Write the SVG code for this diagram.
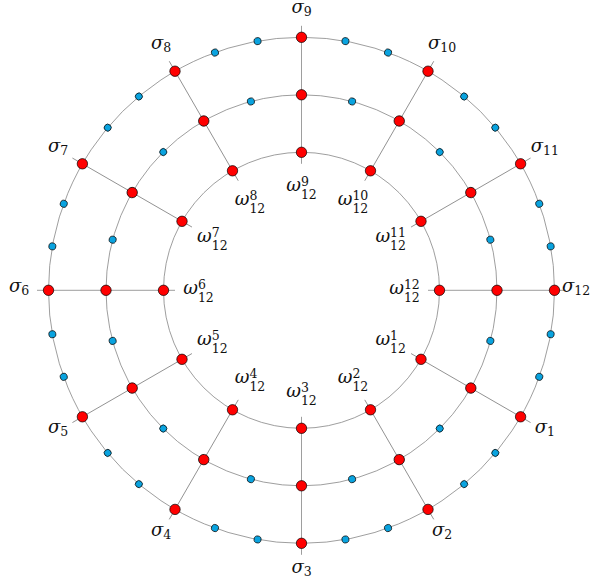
<svg xmlns="http://www.w3.org/2000/svg" width="594" height="585" viewBox="0 0 594 585">
<style>
.ring{fill:none;stroke:#858585;stroke-width:0.8}
.sp{stroke:#858585;stroke-width:0.8}
.r{fill:#ff0000;stroke:#000;stroke-width:0.7}
.b{fill:#0aa3df;stroke:#000;stroke-width:0.7}
.lab{font-family:"DejaVu Serif","Liberation Serif",serif;font-style:italic;font-size:18px;fill:#111;text-anchor:middle}
.s{font-style:normal;font-size:12.5px}
</style>
<rect width="594" height="585" fill="#fff"/>
<g id="connectors" transform="translate(301.5,290.3)">
<circle class="ring" r="138"/>
<circle class="ring" r="195.5"/>
<circle class="ring" r="253"/>
<g class="sp">
<line x1="126.5" x2="264.5" transform="rotate(30)"/>
<line x1="126.5" x2="264.5" transform="rotate(60)"/>
<line x1="126.5" x2="264.5" transform="rotate(90)"/>
<line x1="126.5" x2="264.5" transform="rotate(120)"/>
<line x1="126.5" x2="264.5" transform="rotate(150)"/>
<line x1="126.5" x2="264.5" transform="rotate(180)"/>
<line x1="126.5" x2="264.5" transform="rotate(210)"/>
<line x1="126.5" x2="264.5" transform="rotate(240)"/>
<line x1="126.5" x2="264.5" transform="rotate(270)"/>
<line x1="126.5" x2="264.5" transform="rotate(300)"/>
<line x1="126.5" x2="264.5" transform="rotate(330)"/>
<line x1="126.5" x2="264.5" transform="rotate(0)"/>
</g>
</g>
<g id="blue-dots" transform="translate(301.5,290.3)">
<g id="b-o-1a"><circle class="b" r="3.5" cx="253" transform="rotate(10)"/></g>
<g id="b-o-1b"><circle class="b" r="3.5" cx="253" transform="rotate(20)"/></g>
<g id="b-o-2a"><circle class="b" r="3.5" cx="253" transform="rotate(40)"/></g>
<g id="b-o-2b"><circle class="b" r="3.5" cx="253" transform="rotate(50)"/></g>
<g id="b-o-3a"><circle class="b" r="3.5" cx="253" transform="rotate(70)"/></g>
<g id="b-o-3b"><circle class="b" r="3.5" cx="253" transform="rotate(80)"/></g>
<g id="b-o-4a"><circle class="b" r="3.5" cx="253" transform="rotate(100)"/></g>
<g id="b-o-4b"><circle class="b" r="3.5" cx="253" transform="rotate(110)"/></g>
<g id="b-o-5a"><circle class="b" r="3.5" cx="253" transform="rotate(130)"/></g>
<g id="b-o-5b"><circle class="b" r="3.5" cx="253" transform="rotate(140)"/></g>
<g id="b-o-6a"><circle class="b" r="3.5" cx="253" transform="rotate(160)"/></g>
<g id="b-o-6b"><circle class="b" r="3.5" cx="253" transform="rotate(170)"/></g>
<g id="b-o-7a"><circle class="b" r="3.5" cx="253" transform="rotate(190)"/></g>
<g id="b-o-7b"><circle class="b" r="3.5" cx="253" transform="rotate(200)"/></g>
<g id="b-o-8a"><circle class="b" r="3.5" cx="253" transform="rotate(220)"/></g>
<g id="b-o-8b"><circle class="b" r="3.5" cx="253" transform="rotate(230)"/></g>
<g id="b-o-9a"><circle class="b" r="3.5" cx="253" transform="rotate(250)"/></g>
<g id="b-o-9b"><circle class="b" r="3.5" cx="253" transform="rotate(260)"/></g>
<g id="b-o-10a"><circle class="b" r="3.5" cx="253" transform="rotate(280)"/></g>
<g id="b-o-10b"><circle class="b" r="3.5" cx="253" transform="rotate(290)"/></g>
<g id="b-o-11a"><circle class="b" r="3.5" cx="253" transform="rotate(310)"/></g>
<g id="b-o-11b"><circle class="b" r="3.5" cx="253" transform="rotate(320)"/></g>
<g id="b-o-12a"><circle class="b" r="3.5" cx="253" transform="rotate(340)"/></g>
<g id="b-o-12b"><circle class="b" r="3.5" cx="253" transform="rotate(350)"/></g>
<g id="b-m-1"><circle class="b" r="3.5" cx="195.5" transform="rotate(15)"/></g>
<g id="b-m-2"><circle class="b" r="3.5" cx="195.5" transform="rotate(45)"/></g>
<g id="b-m-3"><circle class="b" r="3.5" cx="195.5" transform="rotate(75)"/></g>
<g id="b-m-4"><circle class="b" r="3.5" cx="195.5" transform="rotate(105)"/></g>
<g id="b-m-5"><circle class="b" r="3.5" cx="195.5" transform="rotate(135)"/></g>
<g id="b-m-6"><circle class="b" r="3.5" cx="195.5" transform="rotate(165)"/></g>
<g id="b-m-7"><circle class="b" r="3.5" cx="195.5" transform="rotate(195)"/></g>
<g id="b-m-8"><circle class="b" r="3.5" cx="195.5" transform="rotate(225)"/></g>
<g id="b-m-9"><circle class="b" r="3.5" cx="195.5" transform="rotate(255)"/></g>
<g id="b-m-10"><circle class="b" r="3.5" cx="195.5" transform="rotate(285)"/></g>
<g id="b-m-11"><circle class="b" r="3.5" cx="195.5" transform="rotate(315)"/></g>
<g id="b-m-12"><circle class="b" r="3.5" cx="195.5" transform="rotate(345)"/></g>
</g>
<g id="middle-nodes" transform="translate(301.5,290.3)">
<g id="m-1"><circle class="r" r="5.2" cx="195.5" transform="rotate(30)"/></g>
<g id="m-2"><circle class="r" r="5.2" cx="195.5" transform="rotate(60)"/></g>
<g id="m-3"><circle class="r" r="5.2" cx="195.5" transform="rotate(90)"/></g>
<g id="m-4"><circle class="r" r="5.2" cx="195.5" transform="rotate(120)"/></g>
<g id="m-5"><circle class="r" r="5.2" cx="195.5" transform="rotate(150)"/></g>
<g id="m-6"><circle class="r" r="5.2" cx="195.5" transform="rotate(180)"/></g>
<g id="m-7"><circle class="r" r="5.2" cx="195.5" transform="rotate(210)"/></g>
<g id="m-8"><circle class="r" r="5.2" cx="195.5" transform="rotate(240)"/></g>
<g id="m-9"><circle class="r" r="5.2" cx="195.5" transform="rotate(270)"/></g>
<g id="m-10"><circle class="r" r="5.2" cx="195.5" transform="rotate(300)"/></g>
<g id="m-11"><circle class="r" r="5.2" cx="195.5" transform="rotate(330)"/></g>
<g id="m-12"><circle class="r" r="5.2" cx="195.5" transform="rotate(0)"/></g>
</g>
<g id="sigma-nodes">
<g id="sigma1"><circle class="r" r="5.2" cx="520.6" cy="416.8"/><text class="lab" x="544.8" y="433">σ<tspan class="s" dy="3">1</tspan></text></g>
<g id="sigma2"><circle class="r" r="5.2" cx="428" cy="509.4"/><text class="lab" x="442" y="535.6">σ<tspan class="s" dy="3">2</tspan></text></g>
<g id="sigma3"><circle class="r" r="5.2" cx="301.5" cy="543.3"/><text class="lab" x="301.5" y="573.3">σ<tspan class="s" dy="3">3</tspan></text></g>
<g id="sigma4"><circle class="r" r="5.2" cx="175" cy="509.4"/><text class="lab" x="161" y="535.6">σ<tspan class="s" dy="3">4</tspan></text></g>
<g id="sigma5"><circle class="r" r="5.2" cx="82.4" cy="416.8"/><text class="lab" x="58.2" y="433">σ<tspan class="s" dy="3">5</tspan></text></g>
<g id="sigma6"><circle class="r" r="5.2" cx="48.5" cy="290.3"/><text class="lab" x="19" y="292.3">σ<tspan class="s" dy="3">6</tspan></text></g>
<g id="sigma7"><circle class="r" r="5.2" cx="82.4" cy="163.8"/><text class="lab" x="58.2" y="151.8">σ<tspan class="s" dy="3">7</tspan></text></g>
<g id="sigma8"><circle class="r" r="5.2" cx="175" cy="71.2"/><text class="lab" x="161" y="49">σ<tspan class="s" dy="3">8</tspan></text></g>
<g id="sigma9"><circle class="r" r="5.2" cx="301.5" cy="37.3"/><text class="lab" x="301.5" y="12.5">σ<tspan class="s" dy="3">9</tspan></text></g>
<g id="sigma10"><circle class="r" r="5.2" cx="428" cy="71.2"/><text class="lab" x="442" y="49">σ<tspan class="s" dy="3">10</tspan></text></g>
<g id="sigma11"><circle class="r" r="5.2" cx="520.6" cy="163.8"/><text class="lab" x="544.8" y="151.8">σ<tspan class="s" dy="3">11</tspan></text></g>
<g id="sigma12"><circle class="r" r="5.2" cx="554.5" cy="290.3"/><text class="lab" x="576" y="292.3">σ<tspan class="s" dy="3">12</tspan></text></g>
</g>
<g id="omega-nodes">
<g id="omega1"><circle class="r" r="5.2" cx="421" cy="359.3"/><text class="lab" x="390.7" y="345.3">ω<tspan class="s" dy="-5">1</tspan><tspan class="s" dx="-7.95" dy="13">12</tspan></text></g>
<g id="omega2"><circle class="r" r="5.2" cx="370.5" cy="409.8"/><text class="lab" x="353" y="383">ω<tspan class="s" dy="-5">2</tspan><tspan class="s" dx="-7.95" dy="13">12</tspan></text></g>
<g id="omega3"><circle class="r" r="5.2" cx="301.5" cy="428.3"/><text class="lab" x="301.5" y="396.8">ω<tspan class="s" dy="-5">3</tspan><tspan class="s" dx="-7.95" dy="13">12</tspan></text></g>
<g id="omega4"><circle class="r" r="5.2" cx="232.5" cy="409.8"/><text class="lab" x="250" y="383">ω<tspan class="s" dy="-5">4</tspan><tspan class="s" dx="-7.95" dy="13">12</tspan></text></g>
<g id="omega5"><circle class="r" r="5.2" cx="182" cy="359.3"/><text class="lab" x="212.3" y="345.3">ω<tspan class="s" dy="-5">5</tspan><tspan class="s" dx="-7.95" dy="13">12</tspan></text></g>
<g id="omega6"><circle class="r" r="5.2" cx="163.5" cy="290.3"/><text class="lab" x="198.5" y="293.8">ω<tspan class="s" dy="-5">6</tspan><tspan class="s" dx="-7.95" dy="13">12</tspan></text></g>
<g id="omega7"><circle class="r" r="5.2" cx="182" cy="221.3"/><text class="lab" x="212.3" y="242.3">ω<tspan class="s" dy="-5">7</tspan><tspan class="s" dx="-7.95" dy="13">12</tspan></text></g>
<g id="omega8"><circle class="r" r="5.2" cx="232.5" cy="170.8"/><text class="lab" x="250" y="204.6">ω<tspan class="s" dy="-5">8</tspan><tspan class="s" dx="-7.95" dy="13">12</tspan></text></g>
<g id="omega9"><circle class="r" r="5.2" cx="301.5" cy="152.3"/><text class="lab" x="301.5" y="190.8">ω<tspan class="s" dy="-5">9</tspan><tspan class="s" dx="-7.95" dy="13">12</tspan></text></g>
<g id="omega10"><circle class="r" r="5.2" cx="370.5" cy="170.8"/><text class="lab" x="353" y="204.6">ω<tspan class="s" dy="-5">10</tspan><tspan class="s" dx="-15.9" dy="13">12</tspan></text></g>
<g id="omega11"><circle class="r" r="5.2" cx="421" cy="221.3"/><text class="lab" x="390.7" y="242.3">ω<tspan class="s" dy="-5">11</tspan><tspan class="s" dx="-15.9" dy="13">12</tspan></text></g>
<g id="omega12"><circle class="r" r="5.2" cx="439.5" cy="290.3"/><text class="lab" x="404.5" y="293.8">ω<tspan class="s" dy="-5">12</tspan><tspan class="s" dx="-15.9" dy="13">12</tspan></text></g>
</g>
</svg>
